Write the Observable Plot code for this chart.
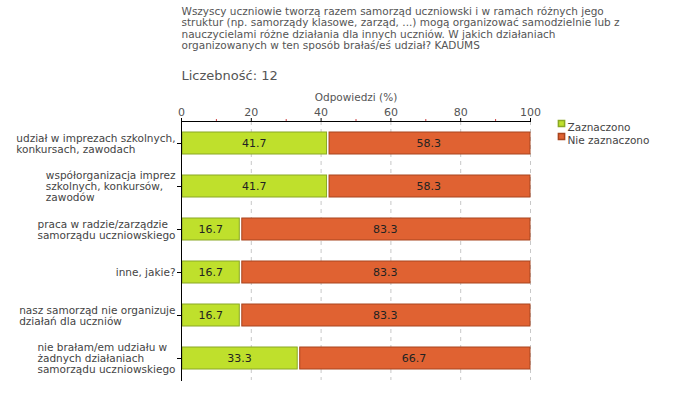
<!DOCTYPE html>
<html>
<head>
<meta charset="utf-8">
<script src="https://cdn.jsdelivr.net/npm/d3@7"></script>
<script src="https://cdn.jsdelivr.net/npm/@observablehq/plot@0.6"></script>
<style>
  body { margin: 0; background: #fff; }
  #chart svg { display: block; }
</style>
</head>
<body>
<div id="chart"></div>
<script>
const categories = [
  "udział w imprezach szkolnych,\nkonkursach, zawodach",
  "współorganizacja imprez\nszkolnych, konkursów,\nzawodów",
  "praca w radzie/zarządzie\nsamorządu uczniowskiego",
  "inne, jakie?",
  "nasz samorząd nie organizuje\ndziałań dla uczniów",
  "nie brałam/em udziału w\nżadnych działaniach\nsamorządu uczniowskiego"
];
const zaznaczono = [41.7, 41.7, 16.7, 16.7, 16.7, 33.3];
const nieZaznaczono = [58.3, 58.3, 83.3, 83.3, 83.3, 66.7];
const seriesNames = ["Zaznaczono", "Nie zaznaczono"];
const titleText = "Wszyscy uczniowie tworzą razem samorząd uczniowski i w ramach różnych jego\nstruktur (np. samorządy klasowe, zarząd, ...) mogą organizować samodzielnie lub z\nnauczycielami różne działania dla innych uczniów. W jakich działaniach\norganizowanych w ten sposób brałaś/eś udział? KADUMS";
const countText = "Liczebność: 12";
const axisLabel = "Odpowiedzi (%)";
const majorTicks = [0, 20, 40, 60, 80, 100];
const minorTicks = [10, 30, 50, 70, 90];
const gridTicks = [20, 40, 60, 80, 100];

const green = "#bfe02c", greenStroke = "#8aa824";
const red = "#e06232", redStroke = "#a8441e";

const rows = categories.map((c, i) => ({cat: c, a: zaznaczono[i], b: nieZaznaczono[i]}));

const chart = Plot.plot({
  width: 680,
  height: 400,
  marginLeft: 181,
  marginRight: 150,
  marginTop: 121,
  marginBottom: 20,
  style: {fontFamily: "DejaVu Sans, Verdana, sans-serif", background: "#fff", overflow: "visible"},
  x: {domain: [0, 100]},
  y: {domain: categories, paddingInner: 0.5, paddingOuter: 0.25, align: 0.5},
  marks: [
    Plot.gridX(gridTicks, {stroke: "#c8c8c8", strokeOpacity: 1, strokeDasharray: "4,4"}),
    Plot.barX(rows, {y: "cat", x1: 0, x2: "a", fill: green, stroke: greenStroke, strokeWidth: 1, insetLeft: 1}),
    Plot.barX(rows, {y: "cat", x1: "a", x2: 100, fill: red, stroke: redStroke, strokeWidth: 1, insetLeft: 2.5}),
    Plot.text(rows, {y: "cat", x: d => d.a / 2, text: d => d.a.toFixed(1), fill: "#222", fontSize: 11}),
    Plot.text(rows, {y: "cat", x: d => d.a + d.b / 2, text: d => d.b.toFixed(1), fill: "#222", fontSize: 11}),
    Plot.axisX(minorTicks, {anchor: "top", tickSize: 3, stroke: "#d04040", text: null, label: null}),
    Plot.axisX(majorTicks, {anchor: "top", tickSize: 4, tickPadding: 2, fontSize: 11, color: "#555", stroke: "#000", label: null}),
    Plot.frame({anchor: "top", stroke: "#000"}),
    Plot.frame({anchor: "left", stroke: "#000"}),
    Plot.axisY({anchor: "left", tickSize: 4, tickPadding: 2, fontSize: 10.5, lineHeight: 1.05, color: "#444", stroke: "#000", label: null}),
    Plot.text([axisLabel], {frameAnchor: "top", dy: -24, fontSize: 10.5, fill: "#555", lineAnchor: "middle"}),
    Plot.text([countText], {frameAnchor: "top-left", dy: -46, fontSize: 13, fill: "#555", lineAnchor: "middle"}),
    Plot.text([titleText], {frameAnchor: "top-left", dy: -115, fontSize: 10.5, lineHeight: 1.1, fill: "#555", lineAnchor: "top"}),
    Plot.dot([seriesNames[0]], {frameAnchor: "top-right", dx: 31, dy: 2, symbol: "square", r: 3.5, fill: green, stroke: greenStroke}),
    Plot.text([seriesNames[0]], {frameAnchor: "top-right", dx: 37, dy: 2, textAnchor: "start", fontSize: 10.5, fill: "#444"}),
    Plot.dot([seriesNames[1]], {frameAnchor: "top-right", dx: 31, dy: 15, symbol: "square", r: 3.5, fill: red, stroke: redStroke}),
    Plot.text([seriesNames[1]], {frameAnchor: "top-right", dx: 37, dy: 15, textAnchor: "start", fontSize: 10.5, fill: "#444"})
  ]
});
document.getElementById("chart").appendChild(chart);

// Left-align the lines of each multi-line y label within a right-aligned block
chart.querySelectorAll('g[aria-label="y-axis tick label"] text').forEach(t => {
  const spans = t.querySelectorAll("tspan");
  if (spans.length < 2) return;
  let w = 0;
  spans.forEach(s => { w = Math.max(w, s.getComputedTextLength()); });
  t.setAttribute("text-anchor", "start");
  spans.forEach(s => s.setAttribute("x", -w));
});
</script>
</body>
</html>
